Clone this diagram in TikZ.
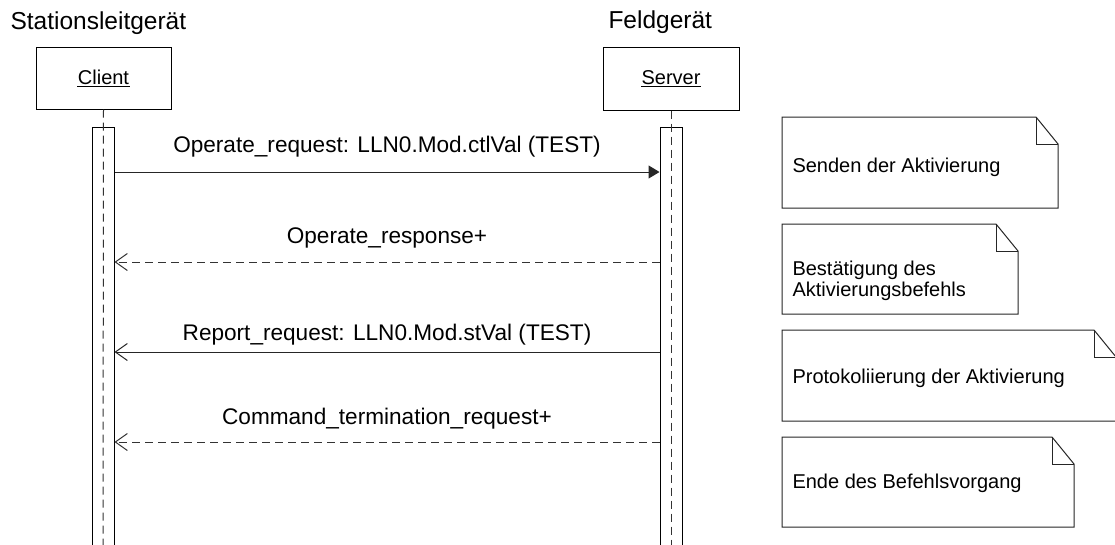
\documentclass[tikz,border=0pt]{standalone}
\usepackage{fontspec}
\setmainfont{Liberation Sans}
\usetikzlibrary{arrows.meta,calc}

\begin{document}
\begin{tikzpicture}[x=1pt,y=-1pt,line width=1pt,
  header/.style={font=\fontsize{24.5}{29}\selectfont, anchor=base west, inner sep=0pt},
  msglabel/.style={font=\fontsize{22.6}{27}\selectfont, anchor=base, inner sep=0pt},
  objbox/.style={draw=black, rectangle, inner sep=0pt},
  objname/.style={font=\fontsize{20}{24}\selectfont, anchor=base, inner sep=0pt},
  bar/.style={draw=black, rectangle, inner sep=0pt, minimum width=22pt, minimum height=440pt, anchor=north},
  lifeline/.style={draw=black!80, dash pattern=on 8pt off 5pt},
  syncmsg/.style={draw=black!85, -{Triangle[length=11pt,width=13pt]}},
  replymsg/.style={draw=black!80, dash pattern=on 8pt off 5pt, -{Straight Barb[length=12pt,width=17pt,line width=1pt]}},
  asyncmsg/.style={draw=black!85, -{Straight Barb[length=12pt,width=17pt,line width=1pt]}},
  notetext/.style={font=\fontsize{20}{24}\selectfont, anchor=base west, inner sep=0pt},
  notebox/.style={draw=black!85, line width=1pt, line join=miter}
]
\useasboundingbox[fill=white] (0,0) rectangle (1115,544);

% participants
\node[header] (hclient) at (10,29) {Stationsleitgerät};
\node[header] (hserver) at (608,28) {Feldgerät};

\node[objbox, minimum width=135pt, minimum height=62pt] (client) at (103.5,78) {};
\node[objbox, minimum width=136pt, minimum height=63pt] (server) at (671,78.5) {};
\node[objname] (clientname) at (103.5,84) {Client};
\node[objname] (servername) at (671,84) {Server};
\draw[line width=1.1pt] ([yshift=-2.2pt]clientname.base west) -- ([yshift=-2.2pt]clientname.base east);
\draw[line width=1.1pt] ([yshift=-2.2pt]servername.base west) -- ([yshift=-2.2pt]servername.base east);

% activation bars and lifelines
\node[bar] (cbar) at (103,127) {};
\node[bar] (sbar) at (671,127) {};
\coordinate (cend) at (103,548);
\coordinate (send) at (671,548);
\draw[lifeline] (client.south) -- (cend);
\draw[lifeline] (server.south -| sbar.center) -- (send);

% message rows
\coordinate (r1) at (0,172);
\coordinate (r2) at (0,262);
\coordinate (r3) at (0,352);
\coordinate (r4) at (0,442);

\draw[syncmsg] (cbar.east |- r1) -- (sbar.west |- r1);
\draw[replymsg] (sbar.west |- r2) -- (cbar.east |- r2);
\draw[asyncmsg] (sbar.west |- r3) -- (cbar.east |- r3);
\draw[replymsg] (sbar.west |- r4) -- (cbar.east |- r4);

\node[msglabel] (l1) at (387,152) {Operate\_request: LLN0.Mod.ctlVal (TEST)};
\node[msglabel] (l2) at (387,243) {Operate\_response+};
\node[msglabel] (l3) at (387,340) {Report\_request: LLN0.Mod.stVal (TEST)};
\node[msglabel] (l4) at (387,424) {Command\_termination\_request+};

% notes with folded corner
\newcommand\dognote[4]{%
  \draw[notebox] (#1,#2) -- (#3-22,#2) -- (#3,#2+27) -- (#3,#4) -- (#1,#4) -- cycle;
  \draw[notebox] (#3-22,#2) -- (#3-22,#2+27) -- (#3,#2+27);
}
\dognote{782}{117}{1058}{208}
\dognote{782}{224}{1018}{314}
\dognote{782}{330}{1116}{421}
\dognote{782}{437}{1074}{527}

\node[notetext] (n1) at (792,172) {Senden der Aktivierung};
\node[notetext] (n2a) at (792,275) {Bestätigung des};
\node[notetext] (n2b) at (792,296) {Aktivierungsbefehls};
\node[notetext] (n3) at (792,383) {Protokoliierung der Aktivierung};
\node[notetext] (n4) at (792,488) {Ende des Befehlsvorgang};
\end{tikzpicture}
\end{document}
